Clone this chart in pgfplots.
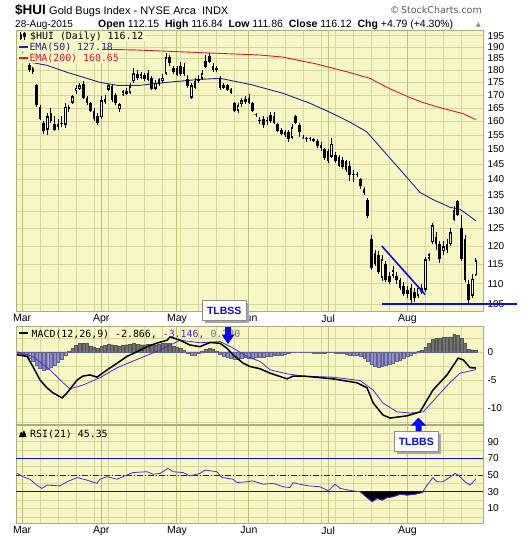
\documentclass[border=0pt]{standalone}
\usepackage{fontspec}
\setmainfont{Liberation Sans}
\newfontfamily\mono{DejaVu Sans Mono}
\newfontfamily\dvs{DejaVu Sans}
\usepackage{pgfplots}
\pgfplotsset{compat=1.18}
\usepackage{pgfplotstable}

\definecolor{bg}{RGB}{247,247,198}
\definecolor{gridc}{RGB}{214,216,160}
\definecolor{gridm}{RGB}{188,194,120}
\definecolor{framec}{RGB}{170,172,130}
\definecolor{ema50}{RGB}{35,35,150}
\definecolor{ema200}{RGB}{225,25,50}
\definecolor{sig}{RGB}{75,40,225}
\definecolor{histpos}{RGB}{115,115,115}
\definecolor{histneg}{RGB}{142,142,205}
\definecolor{annob}{RGB}{10,10,240}

\pgfplotstableread{
i o h l c
0 187 189.5 185.5 186.5
1 186 187 183.5 184
2 182.1 183 179.5 180
3 181 181.5 178.5 179.2
4 174 174.5 165.5 166
5 165.5 166 160.5 161
6 159.5 160 155.5 156.5
7 157 163 155 162
8 163 165 159.5 160
9 159 162 156.5 157
10 158 161 157 159
11 159 162 158 159.5
12 158.6 167 157.5 165.5
13 165.5 166 163.5 164.5
14 167 170 166.5 169.5
15 171.5 174 170.5 173
16 172.5 175 172 174
17 174.5 175.5 168.5 169
18 169 169.5 166 167
19 167 167.5 163.5 164
20 164 165 160 161
21 162 163 158.5 159.5
22 161.5 169.5 161 168
23 168.5 170 166.5 167.5
24 172 174.5 171.5 174
25 173.5 174 167.5 168
26 170 171 166 167
27 164.5 167 163.5 166.5
28 170 172 169.5 171.5
29 170.5 173 170 171.5
30 171 175 170.5 173.5
31 175.5 181 175 179
32 178.5 180 176 177
33 177 179.5 176.5 178.5
34 178 179 175.5 176.5
35 179 180 175.5 176
36 177 177.5 172 172.5
37 172.5 176 172 175
38 176.5 177 173.5 174.5
39 175.5 178.5 175 177
40 178.5 187.5 178 185.5
41 185.5 186.5 182 183
42 181 182 178.5 179.5
43 181 182 177.5 178
44 182 183.5 177.5 178.5
45 181.5 183 177.5 178.5
46 176.5 178 173 173.5
47 169 175 168.5 174
48 175.5 177 172.5 173
49 175.5 178 175 176.5
50 176.5 180 176 179
51 184 186.5 181 181.5
52 186 187.5 183 183.5
53 182 183 179.5 180
54 180 182 179.5 181
55 177 177.5 172 173
56 174 175 172.5 173
57 174 174.5 171.5 172
58 172.5 173 170.5 171
59 167 167.5 163.5 164
60 164 167 163 166
61 166.5 169 165.5 168
62 168.5 169.5 166.5 167.5
63 169 170.5 166.5 167
64 167 167.5 163.5 164
65 162.5 163 161.8 162.3
66 160 161.5 159 160.5
67 161 162 157.5 158.5
68 160 161.5 158.5 160
69 162.5 163.5 159.5 160
70 162 163.5 159 159.5
71 159 159.5 156 156.5
72 157 157.5 155 155.5
73 155 157 154.5 156
74 156 157 152.5 153.5
75 154 159 153.5 158
76 162 162.5 159 159.5
77 158.5 159.5 154.5 156
78 154.5 155 153.5 154
79 154 154.5 152.5 153.5
80 153.5 154.5 153 153.5
81 153.5 154 152.5 153
82 153 153.5 150.5 151
83 151.5 152.5 149.5 150.5
84 150 150.5 146.5 147
85 149.5 150 145.5 146
86 147.5 154 147 152
87 148 149 145.5 146
88 147.5 148 144 144.5
89 146.5 147.5 143.5 144
90 146 146.5 142.5 143
91 144.5 146 139.5 141.5
92 141.3 143 139 141.8
93 141.8 142.5 140.8 141.3
94 140 140.5 137 137.8
95 137 137.5 135 135.5
96 133.5 134 128 128.5
97 122 123 113.5 114
98 118 119 114.5 115
99 117.5 118.5 112.5 113
100 111.5 117.5 110.8 116.5
101 115 116 110.5 111
102 112 113 110 110.5
103 112 114.5 111.5 113.5
104 112 113 110 111
105 111 111.5 108.5 109
106 109.5 110.5 107 107.5
107 108.5 109.5 106.5 107.5
108 109 110 105 106
109 108 109 105.5 106.5
110 107 109.5 106.5 109
111 109 110 107.5 108
112 108.5 117 108 116.5
113 116.5 118 116 117.8
114 121 126.5 120.5 126
115 122.5 124 119 120.5
116 120.5 121.5 115.5 116.5
117 118.5 121.5 117.5 120
118 120.5 122 118 119
119 120.5 125 120 124
120 130.5 131.5 127 127.5
121 133 133.6 128.5 129
122 125 129 116 116.5
123 122 123 110.5 111
124 110 111 105.2 106
125 107 112.5 106.5 111.33
126 112.15 116.84 111.86 116.12
}\candles

\pgfplotstableread{
i v
-1 -0.3
0 -0.4
1 -0.7
2 -1.1
3 -1.6
4 -2.3
5 -2.9
6 -3.2
7 -3.1
8 -2.8
9 -2.4
10 -1.9
11 -1.3
12 -0.6
13 0.1
14 0.7
15 1.2
16 1.5
17 1.6
18 1.5
19 1.1
20 0.8
21 0.7
22 1.0
23 1.2
24 1.4
25 1.3
26 1.2
27 1.1
28 1.2
29 1.3
30 1.4
31 1.5
32 1.4
33 1.3
34 1.3
35 1.4
36 1.4
37 1.3
38 1.4
39 1.5
40 1.6
41 1.5
42 1.1
43 0.8
44 0.6
45 0.3
46 -0.2
47 -0.5
48 -0.5
49 -0.3
50 0.2
51 0.5
52 0.6
53 0.5
54 0.2
55 -0.4
56 -0.7
57 -0.9
58 -1.1
59 -1.2
60 -1.2
61 -1.1
62 -1.0
63 -1.1
64 -1.1
65 -1.0
66 -0.9
67 -0.9
68 -0.8
69 -0.7
70 -0.6
71 -0.6
72 -0.5
73 -0.4
74 -0.3
75 -0.1
76 0.0
77 -0.1
78 -0.1
79 -0.1
80 -0.1
81 -0.2
82 -0.2
83 -0.3
84 -0.2
85 -0.1
86 -0.1
87 -0.2
88 -0.3
89 -0.3
90 -0.4
91 -0.5
92 -0.5
93 -0.6
94 -0.8
95 -1.1
96 -1.6
97 -2.2
98 -2.6
99 -2.7
100 -2.6
101 -2.4
102 -2.2
103 -2.0
104 -1.7
105 -1.4
106 -1.1
107 -0.8
108 -0.5
109 -0.3
110 0.1
111 0.3
112 0.8
113 1.5
114 2.2
115 2.4
116 2.5
117 2.6
118 2.6
119 2.7
120 3.1
121 3.0
122 2.4
123 1.5
124 0.5
125 0.4
126 0.3
}\hist

\pgfplotsset{
  panel/.style={
    scale only axis, width=467pt,
    xmin=-1.69, xmax=128,
    axis line style={draw=framec, line width=0.7pt},
    major tick length=0pt, minor tick length=0pt,
    xtick={5,10,15,20,24,29,34,39,44,49,54,59,68,73,78,83,87,92,97,102,112,117,122},
    xticklabels={},
    extra x ticks={0,22,43,63,85,107},
    extra x tick style={xmajorgrids=true, major grid style={draw=gridm, line width=1.1pt}},
    xmajorgrids, ymajorgrids,
    major grid style={draw=gridc, line width=0.6pt},
    minor grid style={draw=gridc, line width=0.6pt},
    yticklabel pos=right,
    yticklabel style={font=\fontsize{10}{12}\selectfont, anchor=west, xshift=1pt},
    xticklabel style={font=\fontsize{10.5}{12}\selectfont},
    clip=false,
  },
  wick/.style={draw=none, forget plot, error bars/.cd, y dir=plus, y explicit, error mark=none,
    error bar style={draw=black, line width=0.8pt}},
  body/.style={draw=none, forget plot, error bars/.cd, y dir=plus, y explicit, error mark=none,
    error bar style={draw=black, line width=2.6pt}},
  hollow/.style={draw=none, forget plot, error bars/.cd, y dir=plus, y explicit, error mark=none,
    error bar style={draw=bg, line width=1.0pt}},
}

\begin{document}
\begin{tikzpicture}
\path[use as bounding box] (0pt,0pt) rectangle (520pt,-540pt);
\fill[white] (0pt,0pt) rectangle (520pt,-540pt);
\fill[bg] (16pt,-30pt) rectangle (483pt,-311pt);
\fill[bg] (16pt,-326.5pt) rectangle (483pt,-523pt);

% ---------------- price panel
\begin{axis}[panel, at={(16pt,-311pt)}, anchor=south west, height=281pt,
  ymode=log, ymin=103.3, ymax=197.6,
  ytick={105,110,115,120,125,130,135,140,145,150,155,160,165,170,175,180,185,190,195},
  yticklabels={105,110,115,120,125,130,135,140,145,150,155,160,165,170,175,180,185,190,195},
  extra x tick labels={Mar,Apr,May,Jun,Jul,Aug}]
\addplot[ema200, line width=0.9pt] coordinates {(21.5,189) (31.4,188.7) (45.3,187.8) (66,186.5) (72.5,185.6) (82,182.6) (91,179.1) (96.6,176.7) (102,172.6) (107.8,169.0) (111.4,167.1) (117,164.8) (122.5,162.9) (126,160.65)};
\addplot[ema50, line width=0.9pt] coordinates {(2,183.5) (6.9,182.1) (12.5,179.2) (18,176.7) (21.6,175.1) (26.4,173.9) (32.8,173.9) (40.3,175.1) (49.4,176.3) (55,176.7) (57.8,175.9) (63.3,174.3) (72.5,170.7) (80,166.8) (85.5,163.4) (91.1,159.7) (95.8,156.1) (100,150) (105,143.1) (110.5,135.8) (114.1,133.6) (118.9,131.2) (121.6,130.6) (124.4,128.5) (126,127.18)};
\addplot[wick] table[x=i, y=l, y error plus expr={\thisrow{h}-\thisrow{l}}] {\candles};
\addplot[body] table[x=i, y expr={min(\thisrow{o},\thisrow{c})}, y error plus expr={max(abs(\thisrow{c}-\thisrow{o}),0.35)}] {\candles};
\addplot[hollow] table[x=i, y expr={\thisrow{o}*1.004}, y error plus expr={max(\thisrow{c}*0.996-\thisrow{o}*1.004,0)}] {\candles};
\addplot[annob, line width=1.6pt] coordinates {(99.9,120) (111.9,107.3)};
\addplot[annob, line width=2pt] coordinates {(100,104.95) (137.5,104.95)};
\end{axis}

% ---------------- MACD panel
\begin{axis}[panel, at={(16pt,-425pt)}, anchor=south west, height=98.5pt,
  ymin=-13.04, ymax=4.55, ytick={-10,-5,0}, yticklabels={-10,-5,0},
  minor ytick={-12.5,-7.5,-2.5,2.5}, yminorgrids,
  extra x tick labels={}]
\addplot[ybar, bar width=2.9pt, bar shift=0pt, fill=histpos, draw=histpos!75!black, line width=0.4pt]
  table[x=i, y expr={max(\thisrow{v},0)}] {\hist};
\addplot[ybar, bar width=2.9pt, bar shift=0pt, fill=histneg, draw=histneg!70!black, line width=0.4pt]
  table[x=i, y expr={min(\thisrow{v},0)}] {\hist};
\addplot[sig, line width=0.8pt] coordinates {(-1.4,0) (3.0,-0.8) (7.75,-3.2) (11.4,-5.5) (13.3,-6.6) (16.9,-5.9) (21.6,-4.6) (26.4,-2.8) (32.8,-1.1) (38.3,0.35) (43.9,2.1) (49.4,1.65) (55.0,1.85) (58.6,0.7) (62.5,-0.8) (66.1,-1.7) (68.9,-3.2) (73.6,-3.9) (78.0,-4.3) (86.4,-4.5) (93.9,-5.1) (97.5,-6.8) (100.2,-9.1) (104.1,-10.7) (107.8,-10.9) (111.4,-10.7) (115.2,-8.0) (118.9,-5.4) (121.6,-3.8) (126.0,-3.146)};
\addplot[black, line width=1.5pt] coordinates {(-1.4,-0.5) (1.4,-0.8) (3.0,-2.6) (5.0,-5.0) (6.9,-6.4) (8.6,-7.3) (11.1,-8.2) (12.5,-7.3) (15.3,-5.0) (16.9,-4.3) (18.9,-4.1) (20.8,-4.5) (23.6,-3.2) (26.4,-2.0) (29.1,-0.8) (31.9,0.05) (34.7,0.95) (37.5,1.6) (40.3,2.1) (41.1,2.7) (43.9,2.1) (46.6,1.25) (49.4,0.95) (52.2,1.7) (55.0,1.55) (56.9,0.65) (58.6,-0.5) (61.4,-2.0) (63.3,-2.6) (66.1,-3.0) (68.9,-3.8) (73.6,-4.8) (75.3,-4.3) (78.0,-4.3) (86.4,-4.8) (93.0,-5.5) (95.8,-6.4) (97.5,-9.1) (100.2,-11.25) (102.2,-11.8) (106.9,-11.4) (110.5,-10.7) (114.1,-6.8) (118.0,-4.1) (121.1,-1.1) (122.5,-1.4) (124.4,-2.8) (126.0,-2.866)};
\end{axis}

% ---------------- RSI panel
\begin{axis}[panel, at={(16pt,-523pt)}, anchor=south west, height=98pt,
  ymin=-7.4, ymax=109.9, ytick={10,30,50,70,90}, yticklabels={10,30,50,70,90},
  minor ytick={0,20,40,60,80,100}, yminorgrids,
  extra x tick labels={Mar,Apr,May,Jun,Jul,Aug}]
\addplot[annob, line width=0.9pt] coordinates {(-1.69,70) (128,70)};
\addplot[annob, line width=0.9pt] coordinates {(-1.69,30) (128,30)};
\addplot[ema50, line width=0.8pt, dash pattern=on 6pt off 2pt on 1pt off 2pt] coordinates {(-1.69,50) (128,50)};
\addplot[black, fill=black] coordinates {(93.9,30) (95.8,23) (97.2,18) (98.6,22) (100,20) (101.4,23) (103,24) (105,27) (106.9,26) (109.1,27) (111.1,29) (111.5,30)} -- cycle;
\addplot[sig, line width=0.8pt] coordinates {(-1.4,52) (0.25,48) (2.2,45) (4.1,38) (5.5,34) (6.9,38) (10.5,37) (12.5,42) (15.3,47) (18,44) (20.8,40) (21.6,45) (23.6,48) (26.4,45) (29.1,50) (30.8,53) (34.7,54) (36.4,51) (38.3,52) (40.5,58) (41.9,54) (44.7,53) (46.6,49) (49.4,52) (50.8,56) (54.1,54) (55.5,47) (58.6,45) (59.7,41) (62.5,42) (64.1,43) (66.9,39) (69.7,40) (72.5,36) (74.4,35) (75.25,41) (77.2,39) (79.6,37) (82.75,36) (85,31) (86.9,39) (88.3,34) (91.9,31) (93.9,30) (95.8,23) (97.2,18) (98.6,22) (100,20) (101.4,23) (103,24) (105,27) (106.9,26) (109.1,27) (111.1,29) (112.5,38) (114.1,47) (115.2,42) (116.9,42) (118.3,46) (120.3,52) (121.6,48) (123,42) (124.4,38) (126,45.35)};
\end{axis}

% ---------------- texts and annotations
\begin{scope}[x=1pt, y=-1pt]
\draw[framec, line width=0.9pt] (16,424.5) -- (483,424.5);
\node[anchor=base west, inner sep=0, font=\bfseries\fontsize{13.5}{15}\selectfont] at (15,15) {\$HUI};
\node[anchor=base west, inner sep=0, font=\fontsize{11}{13}\selectfont] at (49,14.5) {Gold Bugs Index - NYSE Arca\ \ INDX};
\node[anchor=base west, inner sep=0, font=\fontsize{10}{12}\selectfont] at (15,27.5) {28-Aug-2015};
\node[anchor=base west, inner sep=0, font=\fontsize{10.5}{12}\selectfont] at (98,27.5) {\textbf{Open} 112.15\ \ \textbf{High} 116.84\ \ \textbf{Low} 111.86\ \ \textbf{Close} 116.12\ \ \textbf{Chg} +4.79 (+4.30\%)};
\node[anchor=base west, inner sep=0, text=gray, font=\dvs\fontsize{6}{8}\selectfont] at (476,26.5) {▲};
\node[anchor=base east, inner sep=0, text=black!65, font=\dvs\fontsize{9.5}{11}\selectfont] at (482,14) {©\,StockCharts.com};

% price legend
\fill[bg] (18,31.5) rectangle (145,41.5);
\fill[bg] (18,42.5) rectangle (102,52);
\fill[bg] (18,53) rectangle (106,63);
\draw[black, line width=0.5pt] (20.5,32.5) -- (20.5,40.5);
\fill[black] (19.5,34) rectangle (21.7,39);
\draw[black, line width=0.5pt] (24.5,32) -- (24.5,40);
\fill[black] (23.4,33.5) rectangle (25.6,37.5);
\node[anchor=base west, inner sep=0, font=\mono\fontsize{9.9}{12}\selectfont] at (30,40) {\$HUI (Daily) 116.12};
\draw[ema50, line width=2pt] (19,47) -- (28,47);
\node[anchor=base west, inner sep=0, text=ema50, font=\mono\fontsize{9.9}{12}\selectfont] at (29.3,51) {EMA(50) 127.18};
\draw[ema200, line width=2pt] (19,58) -- (28,58);
\node[anchor=base west, inner sep=0, text=ema200, font=\mono\fontsize{9.9}{12}\selectfont] at (29.3,62) {EMA(200) 160.65};

% MACD legend
\draw[black, line width=2pt] (19,333) -- (27.5,333);
\node[anchor=base west, inner sep=0, font=\mono\fontsize{9.9}{12}\selectfont] at (31.5,337) {MACD(12,26,9) -2.866, \textcolor{sig}{-3.146,} \textcolor{black!55}{0.280}};

% RSI legend
\fill[black] (19,437) -- (21,431.5) -- (22.5,433.5) -- (24,430) -- (26.5,437) -- cycle;
\node[anchor=base west, inner sep=0, font=\mono\fontsize{9.9}{12}\selectfont] at (30,437) {RSI(21) 45.35};

% TLBSS
\fill[black!35] (205,302.5) rectangle (249,322.5);
\filldraw[fill=white, draw=black!45, line width=0.6pt] (202,300) rectangle (246.5,320);
\node[text=annob, font=\bfseries\fontsize{10.5}{12}\selectfont, inner sep=0] at (224.25,310.5) {TLBSS};
\fill[annob] (225,327) -- (231,327) -- (231,334.5) -- (234.5,334.5) -- (228,344) -- (221.5,334.5) -- (225,334.5) -- cycle;

% TLBBS
\fill[black!35] (397,433.5) rectangle (441,454);
\filldraw[fill=white, draw=black!45, line width=0.6pt] (394,431) rectangle (438.5,451.5);
\node[text=annob, font=\bfseries\fontsize{10.5}{12}\selectfont, inner sep=0] at (416.25,441.5) {TLBBS};
\fill[annob] (415.5,431) -- (421.5,431) -- (421.5,425.5) -- (426,425.5) -- (418.5,417.5) -- (411,425.5) -- (415.5,425.5) -- cycle;
\end{scope}
\end{tikzpicture}
\end{document}
